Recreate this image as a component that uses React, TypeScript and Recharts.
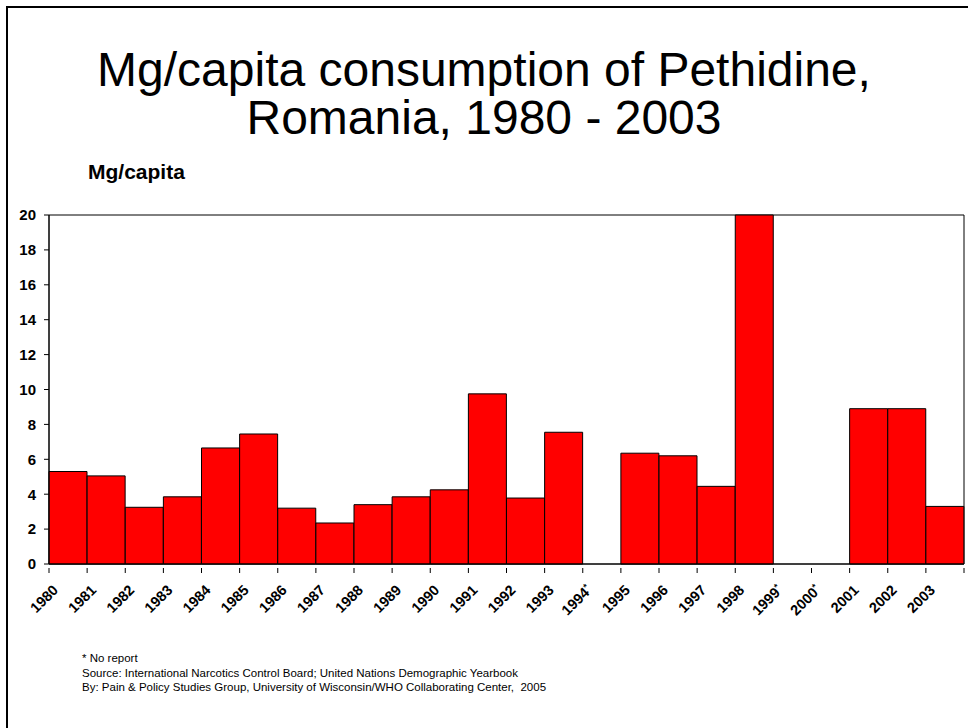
import React from "react";
import { BarChart, Bar, XAxis, YAxis, ReferenceArea } from "recharts";

const years = [
  "1980", "1981", "1982", "1983", "1984", "1985", "1986", "1987",
  "1988", "1989", "1990", "1991", "1992", "1993", "1994*", "1995",
  "1996", "1997", "1998", "1999*", "2000*", "2001", "2002", "2003",
];

// mg per capita; null = no report
const mgPerCapita: (number | null)[] = [
  5.3, 5.05, 3.25, 3.85, 6.65, 7.45, 3.2, 2.35,
  3.4, 3.85, 4.25, 9.75, 3.78, 7.55, null, 6.35,
  6.2, 4.45, 20, null, null, 8.9, 8.9, 3.3,
];

const yTicks = [0, 2, 4, 6, 8, 10, 12, 14, 16, 18, 20];

const font = "Arial, 'Liberation Sans', sans-serif";

const data = years.map((year, i) => ({ year, value: mgPerCapita[i] }));

const CHART_W = 968;
const CHART_H = 728;
const PLOT_LEFT = 49;
const PLOT_RIGHT = 964;
const BAND = (PLOT_RIGHT - PLOT_LEFT) / years.length;

function YearTick(props: any) {
  const { x, y, payload, index } = props;
  const label: string = payload.value;
  const star = label.endsWith("*");
  const text = star ? label.slice(0, -1) : label;
  const ax = x - 9;
  const ay = y + 19;
  return (
    <g>
      <line x1={x - BAND / 2} y1={y - 4} x2={x - BAND / 2} y2={y + 1} stroke="#000" />
      {index === years.length - 1 && (
        <line x1={x + BAND / 2} y1={y - 4} x2={x + BAND / 2} y2={y + 1} stroke="#000" />
      )}
      <text
        x={ax}
        y={ay}
        textAnchor="end"
        fontFamily={font}
        fontWeight="bold"
        fontSize={14.5}
        fill="#000"
        transform={`rotate(-45, ${ax}, ${ay})`}
      >
        {text}
        {star && (
          <tspan fontSize={9} dy={-5}>
            *
          </tspan>
        )}
      </text>
    </g>
  );
}

export default function App() {
  return (
    <div
      style={{
        position: "fixed",
        left: 0,
        top: 0,
        width: CHART_W,
        height: CHART_H,
        background: "#fff",
        fontFamily: font,
        overflow: "hidden",
      }}
    >
      <div
        style={{
          position: "absolute",
          left: 0,
          width: CHART_W,
          top: 46,
          textAlign: "center",
          fontSize: 48,
          lineHeight: "48px",
          color: "#000",
        }}
      >
        Mg/capita consumption of Pethidine,
        <br />
        Romania, 1980 - 2003
      </div>

      <div
        style={{
          position: "absolute",
          left: 88,
          top: 160,
          fontSize: 21,
          fontWeight: "bold",
        }}
      >
        Mg/capita
      </div>

      <div style={{ position: "absolute", left: 0, top: 0 }}>
        <BarChart
          width={CHART_W}
          height={CHART_H}
          data={data}
          margin={{ top: 215, right: CHART_W - PLOT_RIGHT, bottom: 104, left: 0 }}
          barCategoryGap={0}
        >
          <XAxis
            dataKey="year"
            interval={0}
            height={60}
            axisLine={{ stroke: "#000" }}
            tickLine={false}
            tick={<YearTick />}
          />
          <YAxis
            domain={[0, 20]}
            ticks={yTicks}
            interval={0}
            width={PLOT_LEFT}
            axisLine={{ stroke: "#000" }}
            tickLine={{ stroke: "#000" }}
            tickSize={5}
            tickMargin={8}
            tick={{ fill: "#000", fontSize: 15, fontWeight: "bold", fontFamily: font }}
          />
          <ReferenceArea
            x1="1980"
            x2="2003"
            y1={0}
            y2={20}
            fill="none"
            fillOpacity={0}
            stroke="#000"
            strokeOpacity={1}
            ifOverflow="visible"
          />
          <Bar dataKey="value" fill="#ff0000" stroke="#000" strokeWidth={1} isAnimationActive={false} />
        </BarChart>
      </div>

      {/* frame */}
      <div style={{ position: "absolute", zIndex: 5, left: 6, top: 6, width: 980, height: 2, background: "#000" }} />
      <div style={{ position: "absolute", zIndex: 5, left: 6, top: 6, width: 2, height: 740, background: "#000" }} />

      <div
        style={{
          position: "absolute",
          left: 82,
          top: 651,
          fontSize: 11.5,
          lineHeight: "14.5px",
          color: "#000",
        }}
      >
        * No report
        <br />
        Source: International Narcotics Control Board; United Nations Demographic Yearbook
        <br />
        By: Pain &amp; Policy Studies Group, University of Wisconsin/WHO Collaborating Center,&nbsp; 2005
      </div>
    </div>
  );
}
